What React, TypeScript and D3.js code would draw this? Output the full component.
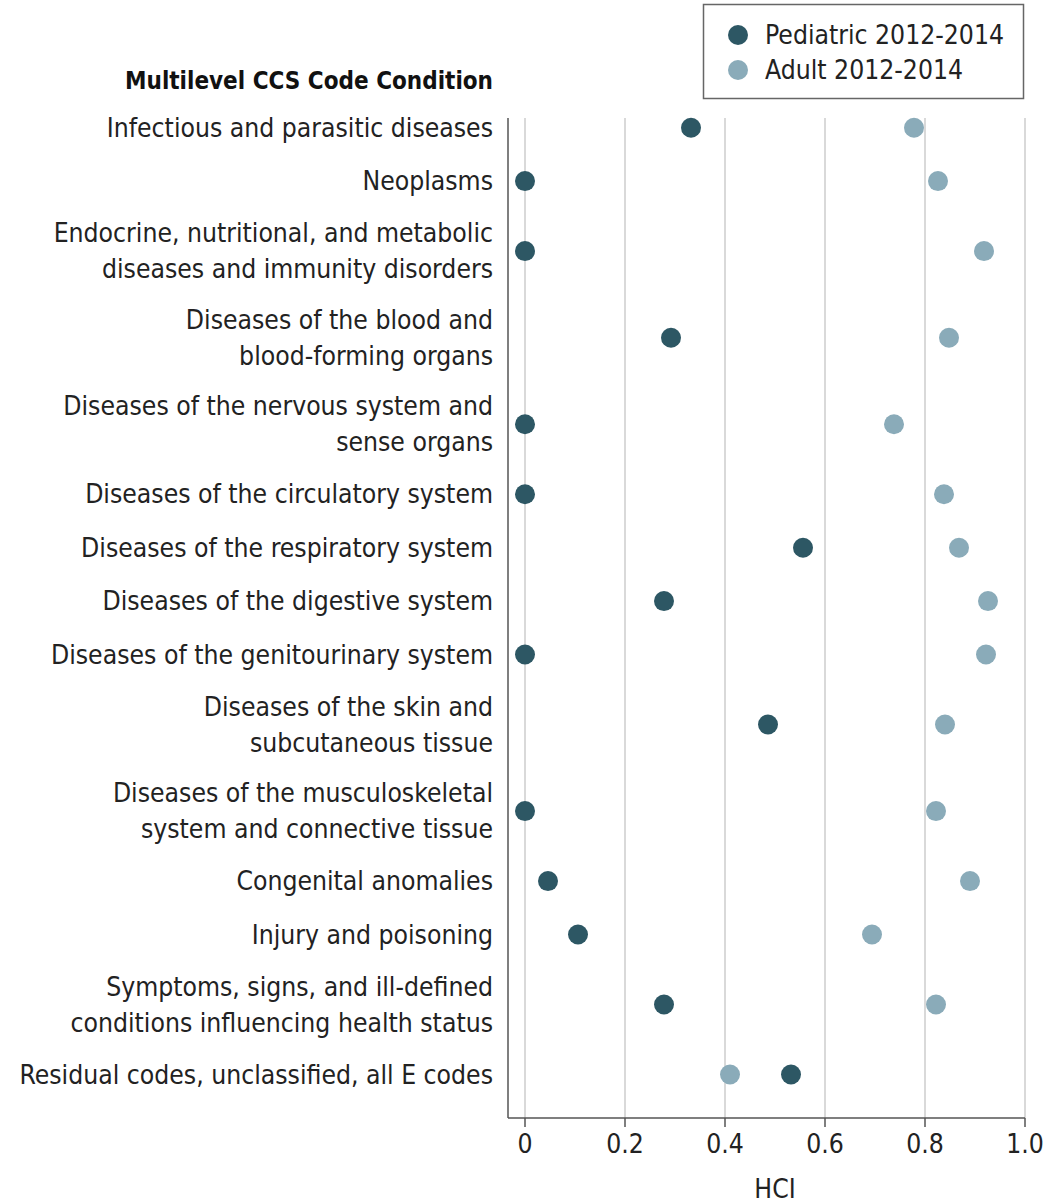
import React from "react";
import * as d3 from "d3";

const categories: string[][] = [
  ["Infectious and parasitic diseases"],
  ["Neoplasms"],
  ["Endocrine, nutritional, and metabolic", "diseases and immunity disorders"],
  ["Diseases of the blood and", "blood-forming organs"],
  ["Diseases of the nervous system and", "sense organs"],
  ["Diseases of the circulatory system"],
  ["Diseases of the respiratory system"],
  ["Diseases of the digestive system"],
  ["Diseases of the genitourinary system"],
  ["Diseases of the skin and", "subcutaneous tissue"],
  ["Diseases of the musculoskeletal", "system and connective tissue"],
  ["Congenital anomalies"],
  ["Injury and poisoning"],
  ["Symptoms, signs, and ill-defined", "conditions influencing health status"],
  ["Residual codes, unclassified, all E codes"],
];

const pediatric: number[] = [0.332, 0, 0, 0.292, 0, 0, 0.556, 0.278, 0, 0.486, 0, 0.046, 0.106, 0.278, 0.532];
const adult: number[] = [0.778, 0.826, 0.918, 0.848, 0.738, 0.838, 0.868, 0.926, 0.922, 0.84, 0.822, 0.89, 0.694, 0.822, 0.41];

const xTicks: number[] = [0, 0.2, 0.4, 0.6, 0.8, 1.0];
const seriesNames = ["Pediatric 2012-2014", "Adult 2012-2014"];
const colors = ["#2d5764", "#8aabb9"];

const FONT = "'DejaVu Sans Condensed', 'Liberation Sans Narrow', 'Roboto', sans-serif";
const FS = 26.3;

export default function App() {
  const W = 1055;
  const H = 1203;
  const x = d3.scaleLinear().domain([0, 1]).range([525, 1025]);
  const axisLeft = 508;
  const axisBottom = 1118;
  const topY = 101;
  const h1 = 53.4;
  const h2 = 86.6;
  const centers: number[] = [];
  let yCur = topY;
  categories.forEach((c) => {
    const h = c.length > 1 ? h2 : h1;
    centers.push(yCur + h / 2);
    yCur += h;
  });
  const lineGap = 36;
  const r = 10;

  return (
    <svg width={W} height={H} style={{ display: "block", position: "absolute", left: 0, top: 0 }} fontFamily={FONT}>
      <rect width={W} height={H} fill="#fff" />
      {xTicks.map((t) => (
        <line key={"g" + t} x1={x(t)} x2={x(t)} y1={118} y2={axisBottom} stroke="#d9d9d9" strokeWidth={2} />
      ))}
      <line x1={axisLeft} x2={axisLeft} y1={118} y2={axisBottom} stroke="#555" strokeWidth={1.5} />
      <line x1={axisLeft} x2={x(1)} y1={axisBottom} y2={axisBottom} stroke="#555" strokeWidth={1.5} />
      {xTicks.map((t) => (
        <g key={"t" + t}>
          <line x1={x(t)} x2={x(t)} y1={axisBottom} y2={axisBottom + 9} stroke="#555" strokeWidth={1.5} />
          <text x={x(t)} y={axisBottom + 35} textAnchor="middle" fontSize={FS} fill="#222">
            {t === 0 ? "0" : t.toFixed(1)}
          </text>
        </g>
      ))}
      <text x={x(0.5)} y={1198} textAnchor="middle" fontSize={FS} fill="#222">HCI</text>
      <text x={493} y={89} textAnchor="end" fontSize={24} fontWeight="bold" fill="#111">Multilevel CCS Code Condition</text>
      {categories.map((c, i) => (
        <text key={"c" + i} textAnchor="end" fontSize={FS} fill="#222">
          {c.map((line, j) => (
            <tspan key={j} x={493} y={centers[i] + 9 + (j - (c.length - 1) / 2) * lineGap}>{line}</tspan>
          ))}
        </text>
      ))}
      {categories.map((c, i) => (
        <g key={"d" + i}>
          <circle cx={x(adult[i])} cy={centers[i]} r={r} fill={colors[1]} />
          <circle cx={x(pediatric[i])} cy={centers[i]} r={r} fill={colors[0]} />
        </g>
      ))}
      <rect x={703.5} y={4.5} width={320} height={94} fill="#fff" stroke="#666" strokeWidth={1.5} />
      {seriesNames.map((s, i) => (
        <g key={"l" + i}>
          <circle cx={738} cy={35 + i * 35} r={10} fill={colors[i]} />
          <text x={765} y={44 + i * 35} fontSize={FS} fill="#222">{s}</text>
        </g>
      ))}
    </svg>
  );
}
